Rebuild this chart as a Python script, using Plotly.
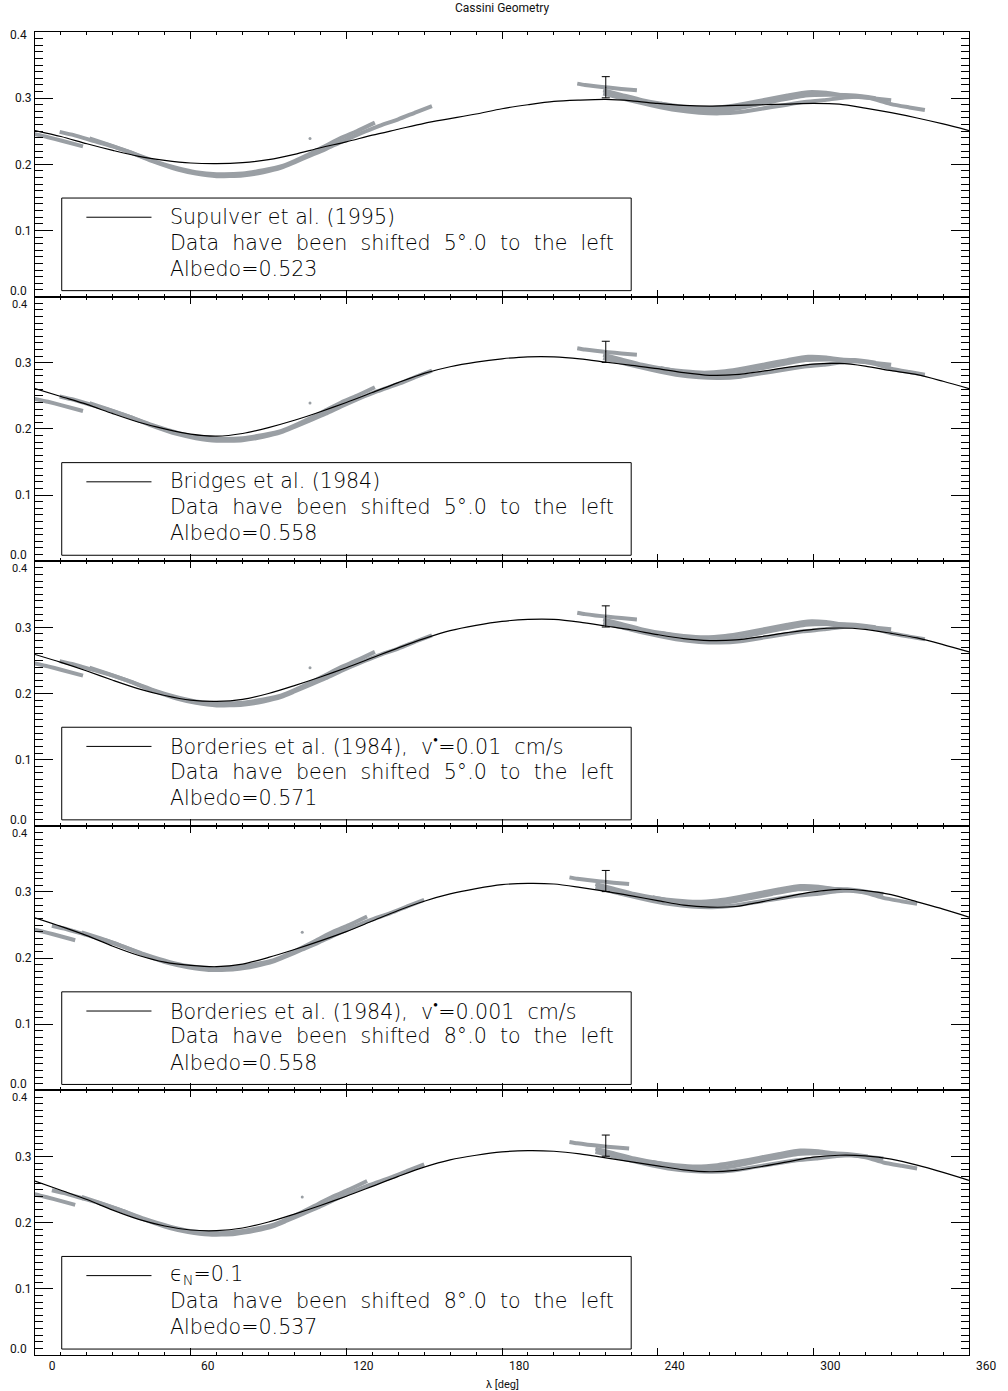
import plotly.graph_objects as go
from plotly.subplots import make_subplots

# ---------------- data ----------------
model_lon = [0, 10, 20, 30, 40, 50, 60, 70, 80, 90, 100, 110, 120, 130, 140, 150, 160, 170, 180,
             190, 200, 210, 220, 230, 240, 250, 260, 270, 280, 290, 300, 310, 320, 330, 340, 350, 360]

model_supulver = [0.251, 0.242, 0.231, 0.221, 0.212, 0.206, 0.202, 0.201, 0.2025, 0.207, 0.215, 0.225,
                  0.234, 0.244, 0.253, 0.262, 0.269, 0.276, 0.284, 0.290, 0.295, 0.297, 0.298, 0.296,
                  0.292, 0.289, 0.288, 0.289, 0.290, 0.291, 0.292, 0.291, 0.285, 0.278, 0.270, 0.261, 0.251]
model_bridges = [0.261, 0.249, 0.237, 0.223, 0.210, 0.200, 0.192, 0.189, 0.193, 0.202, 0.213, 0.226,
                 0.240, 0.255, 0.270, 0.284, 0.294, 0.301, 0.306, 0.309, 0.309, 0.306, 0.301, 0.296,
                 0.291, 0.285, 0.281, 0.282, 0.287, 0.293, 0.298, 0.299, 0.295, 0.288, 0.282, 0.272, 0.261]
model_borderies_01 = [0.259, 0.247, 0.234, 0.220, 0.207, 0.197, 0.190, 0.188, 0.191, 0.200, 0.212, 0.225,
                      0.239, 0.254, 0.269, 0.283, 0.295, 0.303, 0.309, 0.312, 0.312, 0.308, 0.302, 0.296,
                      0.289, 0.283, 0.280, 0.281, 0.286, 0.292, 0.297, 0.299, 0.297, 0.291, 0.284, 0.274, 0.263]
model_borderies_001 = [0.261, 0.248, 0.234, 0.218, 0.204, 0.194, 0.189, 0.187, 0.191, 0.201, 0.213, 0.226,
                       0.240, 0.256, 0.272, 0.286, 0.297, 0.305, 0.311, 0.313, 0.312, 0.307, 0.301, 0.294,
                       0.287, 0.280, 0.277, 0.278, 0.285, 0.293, 0.300, 0.304, 0.302, 0.296, 0.285, 0.274, 0.262]
model_epsn = [0.263, 0.249, 0.235, 0.219, 0.205, 0.195, 0.189, 0.188, 0.192, 0.201, 0.213, 0.226,
              0.240, 0.255, 0.270, 0.284, 0.295, 0.302, 0.307, 0.309, 0.308, 0.304, 0.298, 0.292,
              0.286, 0.280, 0.277, 0.279, 0.285, 0.292, 0.299, 0.302, 0.301, 0.296, 0.287, 0.276, 0.264]

models = [model_supulver, model_bridges, model_borderies_01, model_borderies_001, model_epsn]

# observed brightness tracks (longitude before shifting)
trk_a_lon = [3, 10, 15, 23.5]
trk_a_val = [0.247, 0.241, 0.236, 0.227]
trk_b_lon = [14.5, 20, 27, 35, 41, 50, 60, 67, 75, 85, 93, 100, 105, 111, 117, 123, 129, 136]
trk_b_val = [0.249, 0.244, 0.236, 0.227, 0.219, 0.206, 0.194, 0.188, 0.185, 0.186, 0.191, 0.197,
             0.205, 0.216, 0.228, 0.240, 0.250, 0.263]
trk_c_lon = [26, 33, 41, 50, 60, 67, 75, 85, 93, 100, 105, 111, 117, 123, 130, 137, 145, 152, 158]
trk_c_val = [0.239, 0.230, 0.219, 0.205, 0.192, 0.186, 0.182, 0.183, 0.188, 0.195, 0.203, 0.213,
             0.223, 0.234, 0.246, 0.257, 0.268, 0.279, 0.288]
trk_r1_lon = [214, 217, 221, 226, 231, 237]
trk_r1_val = [0.322, 0.320, 0.318, 0.316, 0.314, 0.312]
trk_r2_lon = [224, 231, 239, 247, 255, 263, 271, 279, 287, 295, 303, 310, 317, 325, 335]
trk_r2_val = [0.312, 0.305, 0.297, 0.291, 0.287, 0.285, 0.287, 0.292, 0.298, 0.304, 0.309, 0.308,
              0.304, 0.301, 0.297]
trk_r3_lon = [224, 233, 243, 252, 261, 269, 277, 285, 293, 301, 309, 317, 323, 329, 335, 342, 348]
trk_r3_val = [0.307, 0.298, 0.289, 0.282, 0.278, 0.277, 0.279, 0.284, 0.289, 0.294, 0.297, 0.301,
              0.302, 0.298, 0.291, 0.286, 0.282]
trk_r4_lon = [246, 255, 265, 275, 283, 292, 302, 311, 321, 329]
trk_r4_val = [0.292, 0.285, 0.281, 0.284, 0.290, 0.297, 0.304, 0.305, 0.304, 0.300]
dot_lon = [111]
dot_val = [0.239]

tracks = [(trk_a_lon, trk_a_val), (trk_b_lon, trk_b_val), (trk_c_lon, trk_c_val),
          (trk_r1_lon, trk_r1_val), (trk_r2_lon, trk_r2_val), (trk_r3_lon, trk_r3_val),
          (trk_r4_lon, trk_r4_val)]

shifts = [5.0, 5.0, 5.0, 8.0, 8.0]
albedos = ["0.523", "0.558", "0.571", "0.558", "0.537"]
model_names = ["Supulver et al. (1995)",
               "Bridges et al. (1984)",
               "Borderies et al. (1984),  v<sup>•</sup>=0.01  cm/s",
               "Borderies et al. (1984),  v<sup>•</sup>=0.001  cm/s",
               "ϵ<sub>N</sub>=0.1"]

err_lon = [220]
err_val = [0.3165]
err_size = [0.016]

x_ticks = [0, 60, 120, 180, 240, 300, 360]
y_ticks = [0.0, 0.1, 0.2, 0.3, 0.4]
y_ticktext = ["", "0.1", "0.2", "0.3", ""]

# ---------------- figure ----------------
W, H = 1008, 1391
fig = make_subplots(rows=5, cols=1, shared_xaxes=True, vertical_spacing=0)

GRAY = "#9a9fa4"
FONT = "Roboto"
LEGFONT = "DejaVu Sans"
TICKFONT = dict(family=FONT, size=12, color="#111")

for i in range(5):
    r = i + 1
    s = shifts[i]
    for lon, val in tracks:
        fig.add_trace(go.Scatter(x=[v - s for v in lon], y=val, mode="lines",
                                 line=dict(color=GRAY, width=4, shape="spline", smoothing=0.5),
                                 showlegend=False, hoverinfo="skip"), row=r, col=1)
    fig.add_trace(go.Scatter(x=[v - s for v in dot_lon], y=dot_val, mode="markers",
                             marker=dict(color=GRAY, size=3), showlegend=False,
                             hoverinfo="skip"), row=r, col=1)
    fig.add_trace(go.Scatter(x=model_lon, y=models[i], mode="lines",
                             line=dict(color="black", width=1.2, shape="spline", smoothing=0.8),
                             showlegend=False), row=r, col=1)
    fig.add_trace(go.Scatter(x=err_lon, y=err_val, mode="markers",
                             marker=dict(color="black", size=1),
                             error_y=dict(type="data", array=err_size, color="black",
                                          thickness=1, width=4),
                             showlegend=False), row=r, col=1)

    xref = "x" if r == 1 else f"x{r}"
    yref = "y" if r == 1 else f"y{r}"
    # legend box
    fig.add_shape(type="rect", xref=xref, yref=yref, x0=10.3, x1=229.8, y0=0.009, y1=0.149,
                  line=dict(color="black", width=1), fillcolor="white", layer="below")
    fig.add_shape(type="line", xref=xref, yref=yref, x0=19.8, x1=44.9, y0=0.120, y1=0.120,
                  line=dict(color="black", width=1))
    lines = [model_names[i],
             f"Data  have  been  shifted  {shifts[i]:.0f}°.0  to  the  left",
             f"Albedo={albedos[i]}"]
    for k, (txt, yy) in enumerate(zip(lines, [0.121, 0.0815, 0.042])):
        fig.add_annotation(x=51.4, y=yy, xref=xref, yref=yref, text=txt, showarrow=False,
                           xanchor="left", yanchor="middle",
                           font=dict(family=LEGFONT, size=20.6, color="black", weight=200))
    # boundary tick labels (0.0 just above, 0.4 just below the panel edge)
    fig.add_annotation(x=0, y=y_ticks[0], xref="paper", yref=yref, text=f"{y_ticks[0]:.1f}",
                       showarrow=False, xanchor="right", yanchor="middle", xshift=-6, yshift=6,
                       font=TICKFONT)
    if r > 1:
        fig.add_annotation(x=0, y=y_ticks[-1], xref="paper", yref=yref, text=f"{y_ticks[-1]:.1f}",
                           showarrow=False, xanchor="right", yanchor="top", xshift=-6, yshift=1,
                           font=dict(family=FONT, size=11, color="#111"))
    else:
        fig.add_annotation(x=0, y=y_ticks[-1], xref="paper", yref=yref, text=f"{y_ticks[-1]:.1f}",
                           showarrow=False, xanchor="right", yanchor="middle", xshift=-6, yshift=-3,
                           font=TICKFONT)

axis_common = dict(showline=True, linecolor="black", linewidth=1, mirror="ticks",
                   ticks="inside", tickcolor="black", showgrid=False, zeroline=False)

for r in range(1, 6):
    fig.update_xaxes(range=[0, 360], tickvals=x_ticks, ticklen=7, tickwidth=1,
                     minor=dict(ticks="inside", dtick=10, ticklen=3, tickcolor="black", showgrid=False),
                     tickfont=TICKFONT, ticklabelshift=17, ticklabeloverflow="allow",
                     **axis_common, row=r, col=1)
    fig.update_yaxes(range=[0, 0.4], tickvals=y_ticks, ticktext=y_ticktext, ticklen=18, tickwidth=1,
                     minor=dict(ticks="inside", dtick=0.01, ticklen=8, tickcolor="black", showgrid=False),
                     tickfont=TICKFONT,
                     **axis_common, row=r, col=1)

fig.add_annotation(x=0.5, y=1, xref="paper", yref="paper", yshift=24, text="Cassini Geometry",
                   showarrow=False, xanchor="center", yanchor="middle",
                   font=dict(family=FONT, size=12, color="#111"))
fig.add_annotation(x=0.5, y=0, xref="paper", yref="paper", yshift=-29, text="λ [deg]",
                   showarrow=False, xanchor="center", yanchor="middle",
                   font=dict(family=FONT, size=11, color="#111"))

fig.update_layout(width=W, height=H, margin=dict(l=35, r=26, t=32, b=36),
                  paper_bgcolor="white", plot_bgcolor="white", showlegend=False)

fig.write_html("out.html")
